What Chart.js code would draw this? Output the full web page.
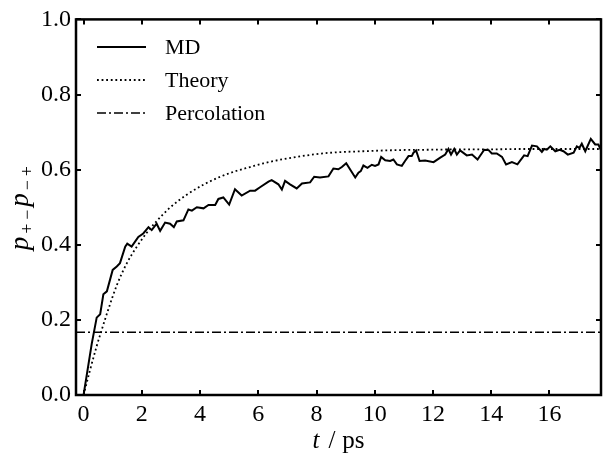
<!DOCTYPE html>
<html>
<head>
<meta charset="utf-8">
<script src="https://cdn.jsdelivr.net/npm/chart.js@4/dist/chart.umd.min.js"></script>
<style>
  html, body { margin: 0; padding: 0; background: #fff; }
  #wrap { width: 605px; height: 455px; }
</style>
</head>
<body>
<div id="wrap"><canvas id="c" width="605" height="455"></canvas></div>
<script>
// ---- data ----
const mdT = [0,0.28,0.45,0.57,0.68,0.8,1.0,1.14,1.25,1.43,1.5,1.65,1.88,2.05,2.23,2.34,2.51,2.63,2.8,2.97,3.1,3.2,3.43,3.6,3.72,3.89,4.12,4.29,4.52,4.63,4.8,5.0,
  5.2,5.43,5.72,5.89,6.06,6.35,6.46,6.69,6.81,6.92,7.09,7.32,7.5,7.78,7.92,8.12,8.41,8.58,8.75,8.87,9.02,9.15,9.33,9.44,9.52,9.61,9.75,9.9,10.01,10.13,10.22,10.36,10.53,10.64,10.76,10.93,11.04,11.16,11.27,11.33,11.42,11.54,11.73,
  12.02,12.25,12.42,12.53,12.62,12.73,12.82,12.93,13.16,13.34,13.53,13.76,13.91,14.02,14.19,14.37,14.51,14.71,14.9,15.13,15.25,15.4,15.57,15.74,15.82,15.91,16.03,16.2,16.35,16.48,16.63,16.83,16.94,17.03,17.11,17.23,17.42,17.57,17.68,17.8];
const mdP = [0,0.136,0.206,0.215,0.268,0.276,0.333,0.342,0.351,0.395,0.403,0.395,0.421,0.43,0.447,0.439,0.456,0.437,0.459,0.456,0.447,0.462,0.465,0.494,0.491,0.5,0.497,0.506,0.506,0.522,0.526,0.507,
  0.548,0.531,0.544,0.544,0.553,0.568,0.572,0.561,0.547,0.570,0.561,0.550,0.563,0.566,0.581,0.579,0.582,0.603,0.601,0.607,0.617,0.601,0.579,0.592,0.596,0.611,0.605,0.613,0.610,0.614,0.634,0.625,0.623,0.627,0.614,0.610,0.623,0.636,0.636,0.645,0.651,0.623,0.624,
  0.620,0.632,0.640,0.655,0.640,0.655,0.640,0.651,0.638,0.640,0.627,0.653,0.652,0.643,0.643,0.634,0.614,0.620,0.614,0.638,0.636,0.664,0.662,0.647,0.655,0.653,0.662,0.649,0.653,0.649,0.640,0.645,0.662,0.658,0.669,0.649,0.682,0.667,0.667,0.647];

const theoryT = [0,0.2,0.45,0.63,0.85,1.14,1.48,1.83,2.17,2.51,2.97,3.54,4.12,4.69,5.26,5.72,6.18,7.32,8.47,9.61,10.76,11.9,13,14,15,16,17,17.8];
const theoryP = [0,0.06,0.13,0.175,0.228,0.292,0.35,0.395,0.432,0.463,0.499,0.533,0.560,0.581,0.597,0.607,0.617,0.634,0.645,0.649,0.652,0.653,0.654,0.654,0.655,0.655,0.655,0.655];

const percolationP = 0.167;

const xMin = -0.26, xMax = 17.77;
const yMin = 0, yMax = 1;
const xTicks = [0,2,4,6,8,10,12,14,16];
const yTicks = [0,0.2,0.4,0.6,0.8,1.0];

const seriesLabels = ['MD', 'Theory', 'Percolation'];

// ---- chart ----
const SERIF = '"Liberation Serif", "DejaVu Serif", serif';

const toPts = (xs, ys) => xs.map((x, i) => ({x: x, y: ys[i]}));

function drawParts(ctx, parts, cx, baseY) {
  let w = 0;
  parts.forEach(p => {
    ctx.font = p.font;
    p.w = (p.adv != null) ? p.adv : ctx.measureText(p.t).width;
    w += p.w + (p.gap || 0);
  });
  let x0 = cx - w / 2;
  parts.forEach(p => {
    ctx.font = p.font;
    const tw = ctx.measureText(p.t).width;
    ctx.fillText(p.t, x0 + (p.w - tw) / 2, baseY + (p.dy || 0));
    x0 += p.w + (p.gap || 0);
  });
}

const framePlugin = {
  id: 'frame',
  afterDraw(chart) {
    const ctx = chart.ctx;
    const a = chart.chartArea;
    const xs = chart.scales.x, ys = chart.scales.y;
    ctx.save();
    // inward ticks on all four sides
    ctx.strokeStyle = '#000';
    ctx.lineWidth = 2;
    const tl = 5;
    xTicks.forEach(v => {
      const px = Math.round(xs.getPixelForValue(v));
      ctx.beginPath();
      ctx.moveTo(px, a.bottom); ctx.lineTo(px, a.bottom - tl);
      ctx.moveTo(px, a.top); ctx.lineTo(px, a.top + tl);
      ctx.stroke();
    });
    yTicks.forEach(v => {
      const py = Math.round(ys.getPixelForValue(v));
      ctx.beginPath();
      ctx.moveTo(a.left, py); ctx.lineTo(a.left + tl, py);
      ctx.moveTo(a.right, py); ctx.lineTo(a.right - tl, py);
      ctx.stroke();
    });
    // frame
    ctx.lineWidth = 2.5;
    ctx.strokeRect(a.left, a.top, a.right - a.left, a.bottom - a.top);

    // legend
    chart.data.datasets.forEach((ds, i) => {
      const y = 47 + 33 * i;
      ctx.beginPath();
      ctx.setLineDash(ds.borderDash || []);
      ctx.lineWidth = ds.borderWidth;
      ctx.strokeStyle = ds.borderColor;
      ctx.moveTo(97, y); ctx.lineTo(146, y);
      ctx.stroke();
      ctx.setLineDash([]);
      ctx.fillStyle = '#000';
      ctx.font = '22px ' + SERIF;
      ctx.textBaseline = 'alphabetic';
      ctx.textAlign = 'left';
      ctx.fillText(ds.label, 165, y + 7);
    });

    // x axis title: t / ps
    ctx.textAlign = 'left';
    ctx.textBaseline = 'alphabetic';
    drawParts(ctx, [
      {t: 't', font: 'italic 25px ' + SERIF, gap: 9},
      {t: '/', font: '25px ' + SERIF, gap: 7},
      {t: 'ps', font: '25px ' + SERIF}
    ], (a.left + a.right) / 2, 448);

    // y axis title: p_{+-} p_{-+}
    ctx.translate(28, (a.top + a.bottom) / 2);
    ctx.rotate(-Math.PI / 2);
    const sub = '18px ' + SERIF, pf = 'italic 27px ' + SERIF;
    drawParts(ctx, [
      {t: 'p', font: pf, gap: 1},
      {t: '+', font: sub, adv: 14, dy: 5},
      {t: '\u2212', font: sub, adv: 14, dy: 5, gap: 1},
      {t: 'p', font: pf, gap: 1},
      {t: '\u2212', font: sub, adv: 14, dy: 5},
      {t: '+', font: sub, adv: 14, dy: 5}
    ], 0, 0);
    ctx.restore();
  }
};

new Chart(document.getElementById('c'), {
  type: 'line',
  data: {
    datasets: [
      {
        label: seriesLabels[0],
        data: toPts(mdT, mdP),
        borderColor: '#000',
        borderWidth: 2,
        pointRadius: 0,
        tension: 0,
        fill: false
      },
      {
        label: seriesLabels[1],
        data: toPts(theoryT, theoryP),
        borderColor: '#000',
        borderWidth: 1.8,
        borderDash: [1.8, 2.8],
        pointRadius: 0,
        cubicInterpolationMode: 'monotone',
        fill: false
      },
      {
        label: seriesLabels[2],
        data: [{x: xMin, y: percolationP}, {x: xMax, y: percolationP}],
        borderColor: '#000',
        borderWidth: 1.7,
        borderDash: [9, 3, 2, 3],
        pointRadius: 0,
        fill: false
      }
    ]
  },
  options: {
    responsive: false,
    animation: false,
    devicePixelRatio: 1,
    layout: { padding: { left: 0, right: 4, top: 15, bottom: 0 } },
    plugins: { legend: { display: false }, tooltip: { enabled: false } },
    scales: {
      x: {
        type: 'linear',
        min: xMin, max: xMax,
        afterBuildTicks: s => { s.ticks = xTicks.map(v => ({value: v})); },
        afterFit: s => { s.height = 60; },
        grid: { display: false, drawTicks: false },
        border: { display: false },
        ticks: { color: '#000', font: { family: SERIF, size: 24 }, padding: 5, maxRotation: 0,
                 callback: v => String(v) }
      },
      y: {
        min: yMin, max: yMax,
        afterBuildTicks: s => { s.ticks = yTicks.map(v => ({value: v})); },
        afterFit: s => { s.width = 76; },
        grid: { display: false, drawTicks: false },
        border: { display: false },
        ticks: { color: '#000', font: { family: SERIF, size: 24 }, padding: 5,
                 callback: v => Number(v).toFixed(1) }
      }
    }
  },
  plugins: [framePlugin]
});
</script>
</body>
</html>
